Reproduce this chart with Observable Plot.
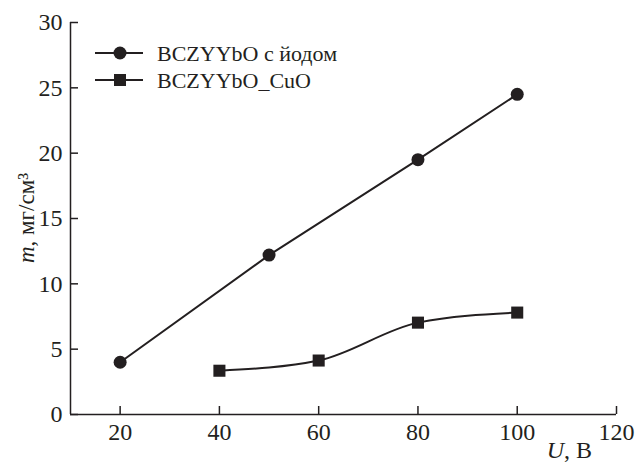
<!DOCTYPE html>
<html>
<head>
<meta charset="utf-8">
<script src="https://cdn.jsdelivr.net/npm/d3@7"></script>
<script src="https://cdn.jsdelivr.net/npm/@observablehq/plot@0.6"></script>
<style>
  html, body { margin: 0; padding: 0; background: #fff; }
  #chart svg { display: block; }
</style>
</head>
<body>
<div id="chart"></div>
<script>
const seriesNames = ["BCZYYbO с йодом", "BCZYYbO_CuO"];
const iodineU = [20, 50, 80, 100];
const iodineM = [4.0, 12.2, 19.5, 24.5];
const cuoU = [40, 60, 80, 100];
const cuoM = [3.35, 4.13, 7.03, 7.8];
const xTicks = [20, 40, 60, 80, 100, 120];
const yTicks = [0, 5, 10, 15, 20, 25, 30];

const ink = "#231f20";
const font = "'Liberation Serif', 'Times New Roman', serif";
const W = 638, H = 465;
const mL = 70, mR = 22, mT = 22, mB = 51;
const innerW = W - mL - mR, innerH = H - mT - mB;

const iodine = iodineU.map((u, i) => ({u, m: iodineM[i]}));
const cuo = cuoU.map((u, i) => ({u, m: cuoM[i]}));

const svg = Plot.plot({
  width: W,
  height: H,
  marginLeft: mL,
  marginRight: mR,
  marginTop: mT,
  marginBottom: mB,
  style: {fontFamily: font, fontSize: "24px", color: ink, background: "#fff"},
  x: {domain: [10, 120], ticks: xTicks},
  y: {domain: [0, 30], ticks: yTicks},
  marks: [
    Plot.axisX(xTicks, {tickSize: 0, tickPadding: 8, fontSize: 24, fontFamily: font, fill: ink, label: null}),
    Plot.axisY(yTicks, {tickSize: 0, tickPadding: 8, fontSize: 24, fontFamily: font, fill: ink, label: null}),
    Plot.ruleX(xTicks, {x: d => d, stroke: ink, strokeWidth: 1.5, insetTop: innerH - 8}),
    Plot.ruleY(yTicks, {y: d => d, stroke: ink, strokeWidth: 1.5, insetRight: innerW - 8}),
    Plot.ruleX([10], {stroke: ink, strokeWidth: 1.5}),
    Plot.ruleY([0], {stroke: ink, strokeWidth: 1.5}),
    Plot.line(iodine, {x: "u", y: "m", stroke: ink, strokeWidth: 2}),
    Plot.line(cuo, {x: "u", y: "m", stroke: ink, strokeWidth: 2, curve: "monotone-x"}),
    Plot.dot(iodine, {x: "u", y: "m", symbol: "circle", r: 6.5, fill: ink, stroke: "none"}),
    Plot.dot(cuo, {x: "u", y: "m", symbol: "square", r: 6.8, fill: ink, stroke: "none"})
  ]
});

const s = d3.select(svg);
// axis titles with italic variable
const xl = s.append("text")
  .attr("x", 592).attr("y", 458)
  .attr("text-anchor", "end")
  .attr("font-family", font).attr("font-size", 24).attr("fill", ink);
xl.append("tspan").attr("font-style", "italic").text("U");
xl.append("tspan").text(", В");

const yl = s.append("text")
  .attr("transform", `translate(34,${mT + innerH / 2}) rotate(-90)`)
  .attr("text-anchor", "middle")
  .attr("font-family", font).attr("font-size", 23).attr("fill", ink);
yl.append("tspan").attr("font-style", "italic").text("m");
yl.append("tspan").text(", мг/см³");

// legend
const legend = s.append("g").attr("transform", `translate(${mL},${mT})`);
seriesNames.forEach((name, i) => {
  const cy = 31 + i * 27;
  const g = legend.append("g").attr("transform", `translate(0,${cy})`);
  g.append("line").attr("x1", 25).attr("x2", 73).attr("y1", 0).attr("y2", 0)
    .attr("stroke", ink).attr("stroke-width", 2);
  if (i === 0) {
    g.append("circle").attr("cx", 50).attr("cy", 0).attr("r", 6.5).attr("fill", ink);
  } else {
    g.append("rect").attr("x", 44).attr("y", -6).attr("width", 12).attr("height", 12).attr("fill", ink);
  }
  g.append("text").attr("x", 87).attr("y", 0).attr("dy", "0.35em")
    .attr("text-anchor", "start")
    .attr("font-family", font).attr("font-size", 22).attr("fill", ink).text(name);
});

document.getElementById("chart").appendChild(svg);
</script>
</body>
</html>
